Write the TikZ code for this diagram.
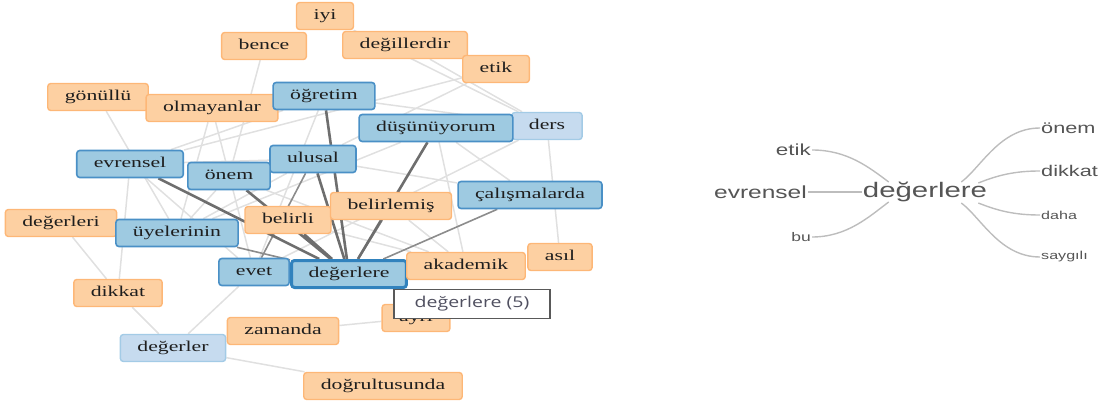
\documentclass[tikz,border=0pt]{standalone}
\usepackage{fontspec}
\usepackage{xcolor}
\usepackage{tikz}
\usetikzlibrary{backgrounds}

\newfontfamily\netfont[FakeStretch=1.45]{Liberation Serif}
\newfontfamily\treefont[FakeStretch=1.4]{Liberation Sans}
\newfontfamily\tipfont[FakeStretch=1.3]{Open Sans}

\definecolor{orangefill}{HTML}{FDD0A2}
\definecolor{orangeline}{HTML}{FDB777}
\definecolor{bluefill}{HTML}{9ECAE1}
\definecolor{blueline}{HTML}{4A90C6}
\definecolor{deepline}{HTML}{3182BD}
\definecolor{palefill}{HTML}{C6DBEF}
\definecolor{paleline}{HTML}{A3CBE6}
\definecolor{wordtext}{HTML}{1E1E1E}
\definecolor{tiptext}{HTML}{505060}
\definecolor{edgelight}{HTML}{E0E0E0}
\definecolor{edgemid}{HTML}{8C8C8C}
\definecolor{edgedark}{HTML}{6E6E6E}
\definecolor{treetext}{HTML}{555555}
\definecolor{branchgray}{HTML}{BDBDBD}

\begin{document}
\begin{tikzpicture}[x=1pt, y=-1pt,
    word/.style={rounded corners=3pt, inner xsep=17pt, inner ysep=0pt, minimum height=27pt,
      text height=11pt, text depth=3.5pt, text=wordtext, font=\netfont\fontsize{15}{18}\selectfont},
    orangeword/.style={word, fill=orangefill, draw=orangeline, line width=1.4pt},
    blueword/.style={word, fill=bluefill, draw=blueline, line width=1.6pt},
    paleword/.style={word, fill=palefill, draw=paleline, line width=1.4pt},
    weak/.style={draw=edgelight, line width=1.5pt},
    middling/.style={draw=edgemid, line width=1.6pt},
    strong/.style={draw=edgedark, line width=2.6pt},
    tipbox/.style={draw=black!65, fill=white, line width=1.2pt, minimum width=156pt, minimum height=29pt,
      text=tiptext, font=\tipfont\fontsize{15}{18}\selectfont},
    leaf/.style={inner sep=1pt, text=treetext, font=\treefont\fontsize{#1}{#1}\selectfont},
    branch/.style={draw=branchgray, line width=1.4pt}]
  \useasboundingbox (0,0) rectangle (1110,403);

  % word network
  \node[orangeword] (iyi) at (325,16) {iyi};
  \node[orangeword] (bence) at (264,46) {bence};
  \node[orangeword] (degillerdir) at (405,45) {değillerdir};
  \node[orangeword] (etik) at (496,69) {etik};
  \node[orangeword] (gonullu) at (98,97) {gönüllü};
  \node[orangeword] (olmayanlar) at (212,108) {olmayanlar};
  \node[blueword] (ogretim) at (324,96) {öğretim};
  \node[paleword] (ders) at (547,126) {ders};
  \node[blueword] (dusunuyorum) at (436,128) {düşünüyorum};
  \node[blueword] (evrensel) at (130,164) {evrensel};
  \node[blueword] (ulusal) at (313,159) {ulusal};
  \node[blueword] (onem) at (229,176) {önem};
  \node[blueword] (calismalarda) at (530,195) {çalışmalarda};
  \node[orangeword] (belirli) at (288,220) {belirli};
  \node[orangeword] (belirlemis) at (391,206) {belirlemiş};
  \node[orangeword] (degerleri) at (61,223) {değerleri};
  \node[blueword] (uyelerinin) at (177,233) {üyelerinin};
  \node[blueword] (evet) at (254,272) {evet};
  \node[blueword, draw=deepline, line width=3pt] (degerlere) at (349,274) {değerlere};
  \node[orangeword] (akademik) at (466,266) {akademik};
  \node[orangeword] (asil) at (560,257) {asıl};
  \node[orangeword] (dikkat) at (118,293) {dikkat};
  \node[orangeword] (ayri) at (416,318) {ayrı};
  \node[paleword] (degerler) at (173,348) {değerler};
  \node[orangeword] (zamanda) at (283,331) {zamanda};
  \node[orangeword] (dogrultusunda) at (383,386) {doğrultusunda};
  \node[tipbox] (tip) at (472,304) {değerlere (5)};

  \begin{scope}[on background layer]
    \foreach \a/\b in {gonullu/ogretim, gonullu/uyelerinin, bence/onem, ogretim/evrensel,
        olmayanlar/uyelerinin, olmayanlar/evet, evrensel/ulusal, iyi/ders, degillerdir/ders,
        etik/evrensel, etik/ulusal, ogretim/ders, dusunuyorum/akademik, dusunuyorum/calismalarda,
        ulusal/calismalarda, ders/asil, ders/evet, belirli/akademik, onem/akademik,
        evrensel/dikkat, evrensel/evet, degerleri/dikkat, dikkat/degerler, evet/degerler,
        degerler/dogrultusunda, zamanda/ayri, onem/uyelerinin, ulusal/uyelerinin,
        dusunuyorum/uyelerinin, ogretim/evet, belirlemis/akademik}
      \draw[weak] (\a) -- (\b);
    \foreach \a in {uyelerinin, calismalarda, belirlemis}
      \draw[middling] (\a) -- (degerlere);
    \draw[middling] (ulusal) -- (evet);
    \foreach \a in {ogretim, ulusal, evrensel, onem, dusunuyorum, belirli}
      \draw[strong] (\a) -- (degerlere);
  \end{scope}

  % word tree
  \node[leaf=21] (root) at (925,192) {değerlere};
  \node[leaf=16, anchor=east] (tetik) at (812,150) {etik};
  \node[leaf=17.5, anchor=east] (tevrensel) at (808,192) {evrensel};
  \node[leaf=12.5, anchor=east] (tbu) at (812,237) {bu};
  \node[leaf=15.5, anchor=west] (tonem) at (1040,128) {önem};
  \node[leaf=15.5, anchor=west] (tdikkat) at (1040,171) {dikkat};
  \node[leaf=11.5, anchor=west] (tdaha) at (1040,215) {daha};
  \node[leaf=11.5, anchor=west] (tsaygili) at (1040,257) {saygılı};

  \draw[branch] (tetik.east) .. controls +(35,0) and +(-20,-15) .. ([shift={(27,-10)}]root.west);
  \draw[branch] (tevrensel.east) -- (root.west);
  \draw[branch] (tbu.east) .. controls +(35,0) and +(-20,15) .. ([shift={(27,10)}]root.west);
  \draw[branch] ([shift={(-27,-10)}]root.east) .. controls +(20,-15) and +(-40,0) .. (tonem.west);
  \draw[branch] ([shift={(-10,-9)}]root.east) .. controls +(20,-8) and +(-25,0) .. (tdikkat.west);
  \draw[branch] ([shift={(-10,11)}]root.east) .. controls +(20,8) and +(-25,0) .. (tdaha.west);
  \draw[branch] ([shift={(-27,11)}]root.east) .. controls +(20,15) and +(-40,0) .. (tsaygili.west);
\end{tikzpicture}
\end{document}
